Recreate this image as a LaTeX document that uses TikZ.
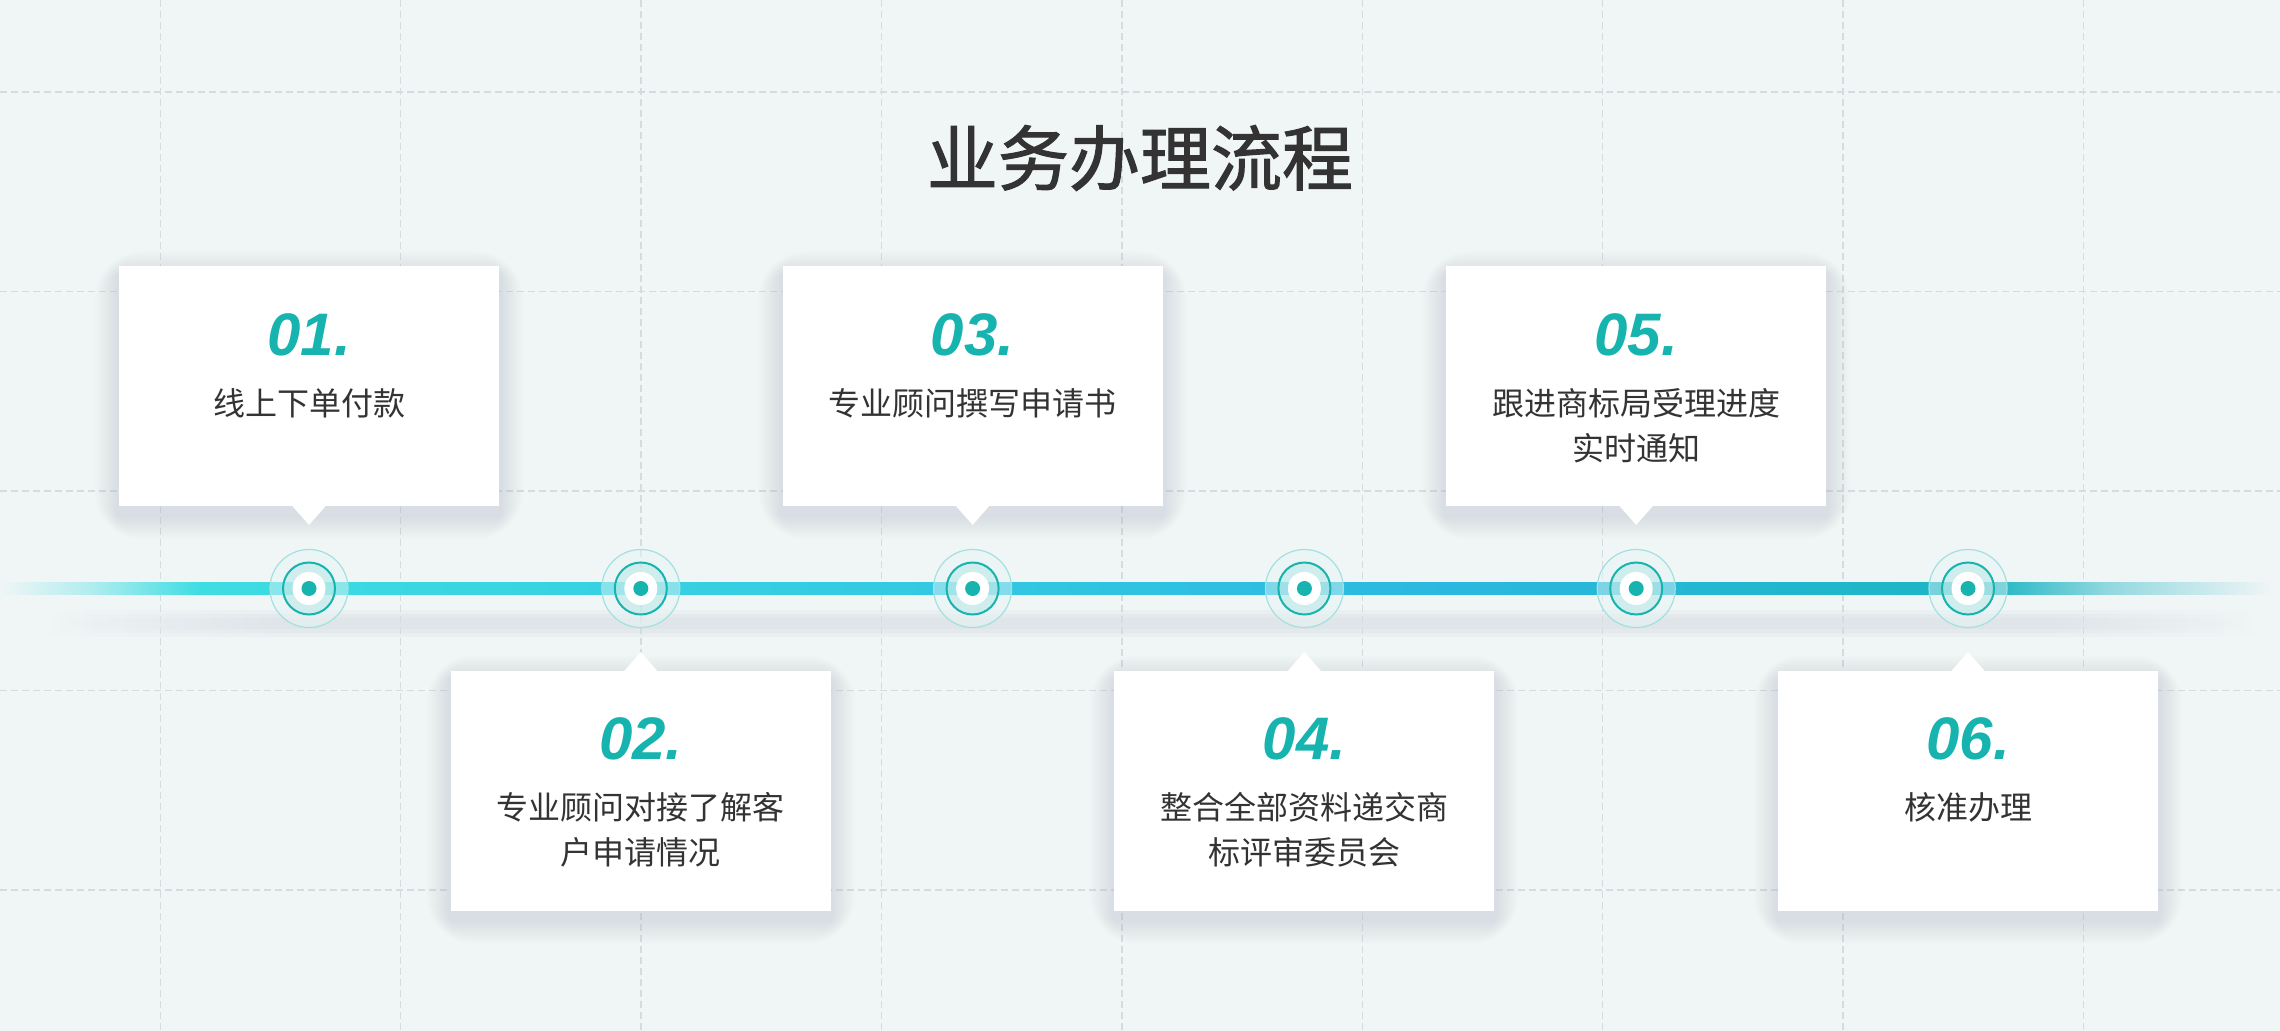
\documentclass[tikz,border=0pt]{standalone}
\usepackage{fontspec}
\newfontfamily\flowCjk{Noto Sans CJK SC}
\newfontfamily\flowCjkTitle[FakeBold=1.5]{Noto Sans CJK SC}
\newfontfamily\flowNumFont{Liberation Sans}
\usetikzlibrary{calc}

\definecolor{flowBg}{HTML}{F0F5F6}
\definecolor{flowGrid}{HTML}{D3DCDF}
\definecolor{flowTeal}{HTML}{17B3AE}
\definecolor{flowText}{HTML}{333333}
\definecolor{flowBarA}{HTML}{3DDDE2}
\definecolor{flowBarB}{HTML}{33CAE2}
\definecolor{flowBarC}{HTML}{2BB8E0}
\definecolor{flowBarD}{HTML}{1CB5C3}
\definecolor{flowShadowC}{HTML}{D5DDE2}
\definecolor{flowCardShade}{HTML}{8CA0AC}
\colorlet{flowBarFadeL}{flowBarA!35!flowBg}
\colorlet{flowBarFadeR}{flowBarD!45!flowBg}

\pgfdeclarehorizontalshading{flowBarShade}{100bp}{color(0bp)=(flowBg);
  color(25bp)=(flowBg); color(27bp)=(flowBarFadeL); color(29.4bp)=(flowBarA);
  color(44.7bp)=(flowBarB); color(56.8bp)=(flowBarC); color(68.6bp)=(flowBarD);
  color(71.2bp)=(flowBarFadeR); color(74.8bp)=(flowBg); color(100bp)=(flowBg)}
\pgfdeclarehorizontalshading{flowShadowShade}{100bp}{color(0bp)=(flowBg);
  color(26bp)=(flowBg); color(31bp)=(flowShadowC); color(70bp)=(flowShadowC);
  color(74.5bp)=(flowBg); color(100bp)=(flowBg)}

\begin{document}
\begin{tikzpicture}[
                x=0.5pt, y=-0.5pt,
                flowGridLine/.style={draw=flowGrid,line width=0.7pt,
                                     dash pattern=on 3.5pt off 2pt},
                flowTitle/.style={font={\flowCjkTitle\fontsize{35.5pt}{40pt}\selectfont},
                                  text=flowText,inner sep=0pt},
                flowCard/.style={rectangle,fill=white,inner sep=0pt,
                                 minimum width=190pt,minimum height=120pt},
                flowCardGlow/.style={fill=flowCardShade,fill opacity=0.016},
                flowNum/.style={font={\flowNumFont\bfseries\itshape\fontsize{30pt}{30pt}\selectfont},
                                text=flowTeal,inner sep=0pt},
                flowLabel/.style={font={\flowCjk\fontsize{16pt}{22.5pt}\selectfont},
                                  text=flowText,align=center,inner sep=0pt,anchor=north},
                flowHalo/.style={circle,minimum size=39pt,inner sep=0pt,
                                 draw=flowTeal!40,line width=0.6pt,
                                 fill=flowTeal!10,fill opacity=0.45},
                flowRing/.style={circle,minimum size=26pt,inner sep=0pt,
                                 draw=flowTeal,line width=1pt,
                                 fill=flowTeal!30,fill opacity=0.55},
                flowHole/.style={circle,fill=white,minimum size=16.5pt,inner sep=0pt},
                flowDot/.style={circle,fill=flowTeal,minimum size=7.5pt,inner sep=0pt}]
                \fill[flowBg] (0,0) rectangle (2280,1031);
                \useasboundingbox (0,0) rectangle (2280,1031);
                \foreach \gx in {0,...,8}
                    \draw[flowGridLine] ({160.3+240.4*\gx},0) -- ++(0,1031);
                \foreach \gy in {0,...,4}
                    \draw[flowGridLine] (0,{92+199.5*\gy}) -- ++(2280,0);
                \node[flowTitle] (title) at (1140,158) {业务办理流程};
                \foreach \h/\op in {13/0.22,9/0.28,5/0.32}
                    \shade[shading=flowShadowShade,opacity=\op] (0,{623-\h}) rectangle (2280,{623+\h});
                \shade[shading=flowBarShade] (0,583) rectangle (2280,594);
                \foreach \i/\d/\txt in {1/1/{线上下单付款},
                                        2/-1/{专业顾问对接了解客\\户申请情况},
                                        3/1/{专业顾问撰写申请书},
                                        4/-1/{整合全部资料递交商\\标评审委员会},
                                        5/1/{跟进商标局受理进度\\实时通知},
                                        6/-1/{核准办理}} {
                    \coordinate (dot\i) at ({309+331.8*(\i-1)},588.5);
                    \foreach \k in {2,4,...,24}
                        \fill[flowCardGlow,rounded corners=\k pt]
                            ($(dot\i)+({-190-\k},{-202*\d-120-\k+9})$) rectangle
                            ($(dot\i)+({190+\k},{-202*\d+120+\k+9})$);
                    \node[flowCard] (card\i) at ($(dot\i)+(0,-202*\d)$) {};
                    \fill[white] ($(dot\i)+(-18,-84*\d)$) -- ($(dot\i)+(0,-63.5*\d)$)
                                 -- ($(dot\i)+(18,-84*\d)$) -- cycle;
                    \node[flowNum] (num\i) at ($(card\i.north)+(0,68.5)$) {0\i.};
                    \node[flowLabel] (txt\i) at ($(card\i.north)+(0,122)$) {\txt};
                    \node[flowHalo] (halo\i) at (dot\i) {};
                    \node[flowRing] (ring\i) at (dot\i) {};
                    \node[flowHole] (hole\i) at (dot\i) {};
                    \node[flowDot] (core\i) at (dot\i) {};
                }
            \end{tikzpicture}
\end{document}
